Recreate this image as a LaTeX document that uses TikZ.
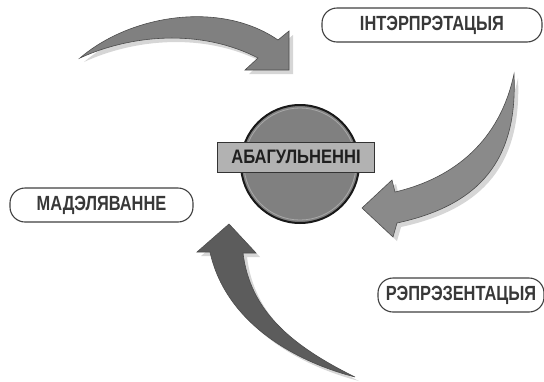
\documentclass[tikz,border=0pt]{standalone}
\usepackage{fontspec}
\setmainfont{Liberation Sans}
% condensed bold face for the stage names
\newfontfamily\stagefont{Liberation Sans}[FakeStretch=0.8]
\newfontfamily\corefont{Liberation Sans}[FakeStretch=0.85]
% outlines of the three curved block arrows (pixel-like units, y down)
\def\ArrowTop{(80,58) .. controls (130,15) and (220,0) .. (278,40) -- (289,31) -- (289,70) -- (245,70) -- (258,58) .. controls (200,28) and (130,35) .. (80,58) -- cycle}
\def\ArrowRight{(514,74) .. controls (518,160) and (480,205) .. (397,223) -- (393,237) -- (362,208) -- (392,180) -- (395,192) .. controls (455,178) and (500,140) .. (514,74) -- cycle}
\def\ArrowBottom{(355,377) .. controls (290,345) and (250,310) .. (243,253) -- (256,253) -- (229,224) -- (197,252) -- (210,252) .. controls (225,320) and (290,360) .. (355,377) -- cycle}
\begin{document}
\begin{tikzpicture}[x=1pt,y=-1pt,
  pill/.style={draw=black!75,line width=1.1pt,fill=white,rounded corners=15pt,
    minimum height=34pt,inner sep=0pt,
    font=\stagefont\bfseries\fontsize{20.5}{22}\selectfont,text=black!78},
  blockarrow/.style={draw=black!70,line width=0.6pt,line join=miter},
  arrowshadow/.style={fill=black!16,draw=none}]
\useasboundingbox (0,0) rectangle (544,381);

% soft shadows of the arrows
\fill[arrowshadow,shift={(4,4)}] \ArrowTop;
\fill[arrowshadow,shift={(4,4)}] \ArrowRight;
\fill[arrowshadow,shift={(4,4)}] \ArrowBottom;

% the arrows
\filldraw[blockarrow,fill=black!50] \ArrowTop;
\filldraw[blockarrow,fill=black!46] \ArrowRight;
\filldraw[blockarrow,fill=black!64] \ArrowBottom;

% central disc with its label
\node[circle,minimum size=118pt,fill=black!50,draw=black!90,line width=2pt] (core) at (300,164) {};
\draw[black!34,line width=0.8pt] (core.center) circle (56);
\node[draw=black!80,line width=1pt,fill=black!30,minimum width=157pt,minimum height=30pt,
  inner sep=0pt,font=\corefont\bfseries\fontsize{19.5}{21}\selectfont,text=black!88] (abag) at (296,157) {АБАГУЛЬНЕННІ};

% outer stages
\node[pill,minimum width=220pt] (interp) at (432,25) {ІНТЭРПРЭТАЦЫЯ};
\node[pill,minimum width=183pt] (model) at (101.5,205) {МАДЭЛЯВАННЕ};
\node[pill,minimum width=166pt] (repr) at (461,295) {РЭПРЭЗЕНТАЦЫЯ};
\end{tikzpicture}
\end{document}
